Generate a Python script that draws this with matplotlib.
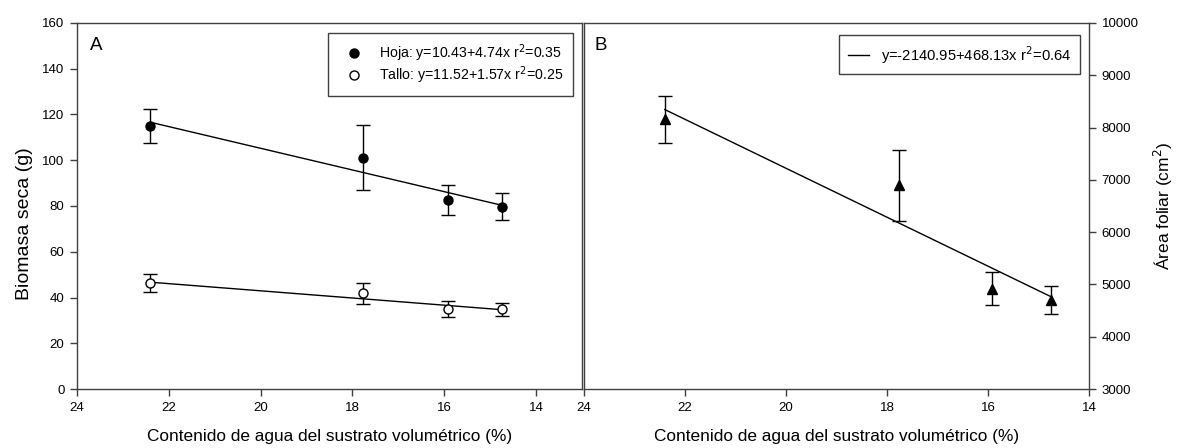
import matplotlib
matplotlib.use("Agg")
import matplotlib.pyplot as plt
from matplotlib.lines import Line2D
import numpy as np

plt.rcParams['font.family'] = ['Liberation Sans', 'DejaVu Sans']

# Data
agua = [22.4, 17.77, 15.92, 14.75]
hoja = [114.9, 101.0, 82.7, 79.7]
hoja_err = [7.3, 14.2, 6.6, 6.0]
tallo = [46.2, 41.8, 35.1, 34.8]
tallo_err = [4.0, 4.7, 3.5, 2.9]
area = [8156, 6894, 4921, 4697]
area_err = [455, 685, 320, 270]

hoja_coef = (10.43, 4.74)
tallo_coef = (11.52, 1.57)
area_coef = (-2140.95, 468.13)

xticks = [24, 22, 20, 18, 16, 14]
yticks_a = [0, 20, 40, 60, 80, 100, 120, 140, 160]
yticks_b = [3000, 4000, 5000, 6000, 7000, 8000, 9000, 10000]

W, H = 1177, 448
fig = plt.figure(figsize=(W / 100, H / 100), dpi=100)
spine_c = '#404040'
fs_tick = 9.5
fs_xlab = 12.4

axA = fig.add_axes([77 / W, (H - 389) / H, (582 - 77) / W, 366 / H])
axB = fig.add_axes([584 / W, (H - 389) / H, (1089 - 584) / W, 366 / H])

xfit = np.array([agua[0], agua[-1]])

# Panel A
axA.errorbar(agua, hoja, yerr=hoja_err, fmt='o', color='black', ms=6.5,
             capsize=5, elinewidth=1, capthick=1)
axA.errorbar(agua, tallo, yerr=tallo_err, fmt='o', color='black', mfc='white', ms=6.5,
             capsize=5, elinewidth=1, capthick=1)
axA.plot(xfit, hoja_coef[0] + hoja_coef[1] * xfit, color='black', lw=1)
axA.plot(xfit, tallo_coef[0] + tallo_coef[1] * xfit, color='black', lw=1)
axA.set_xlim(24, 24 - (582 - 77) / ((536 - 77) / 10))
axA.set_ylim(0, 160)
axA.set_xticks(xticks)
axA.set_yticks(yticks_a)
axA.set_ylabel('Biomasa seca (g)', fontsize=14, labelpad=7)
axA.yaxis.label.set_y(0.451)
axA.set_xlabel('Contenido de agua del sustrato volumétrico (%)', fontsize=fs_xlab, labelpad=11)
axA.text(0.025, 0.962, 'A', transform=axA.transAxes, fontsize=13.5, va='top', ha='left')
hA = [Line2D([], [], ls='none', marker='o', color='black', ms=6.5),
      Line2D([], [], ls='none', marker='o', color='black', mfc='white', ms=6.5)]
lA = ['Hoja: y=10.43+4.74x r$^2$=0.35', 'Tallo: y=11.52+1.57x r$^2$=0.25']
legA = axA.legend(hA, lA, loc='upper right', bbox_to_anchor=(0.982, 0.973), borderaxespad=0,
                  fontsize=10.2, frameon=True, fancybox=False, edgecolor=spine_c,
                  framealpha=1, borderpad=0.7, labelspacing=0.0, handletextpad=0.63,
                  handlelength=2.25)
legA.get_frame().set_linewidth(1)

# Panel B
axB.errorbar(agua, area, yerr=area_err, fmt='^', color='black', ms=7,
             capsize=5, elinewidth=1, capthick=1)
lineB, = axB.plot(xfit, area_coef[0] + area_coef[1] * xfit, color='black', lw=1)
axB.set_xlim(24, 14)
axB.set_ylim(3000, 10000)
axB.set_xticks(xticks)
axB.set_yticks(yticks_b)
axB.yaxis.tick_right()
axB.yaxis.set_label_position('right')
axB.set_ylabel('Área foliar (cm$^2$)', fontsize=12.5, labelpad=10)
axB.set_xlabel('Contenido de agua del sustrato volumétrico (%)', fontsize=fs_xlab, labelpad=11)
axB.text(0.02, 0.962, 'B', transform=axB.transAxes, fontsize=13.5, va='top', ha='left')
legB = axB.legend([lineB], ['y=-2140.95+468.13x r$^2$=0.64'], loc='upper right',
                  bbox_to_anchor=(0.982, 0.967), borderaxespad=0, fontsize=10.6,
                  frameon=True, fancybox=False, edgecolor=spine_c, framealpha=1,
                  borderpad=0.6, handlelength=1.4, handletextpad=0.8)
legB.get_frame().set_linewidth(1)

for ax in (axA, axB):
    for s in ax.spines.values():
        s.set_color(spine_c)
        s.set_linewidth(1)
    ax.tick_params(direction='out', length=5, width=1, color=spine_c,
                   labelsize=fs_tick, pad=4)

fig.savefig('out.png', dpi=100)
